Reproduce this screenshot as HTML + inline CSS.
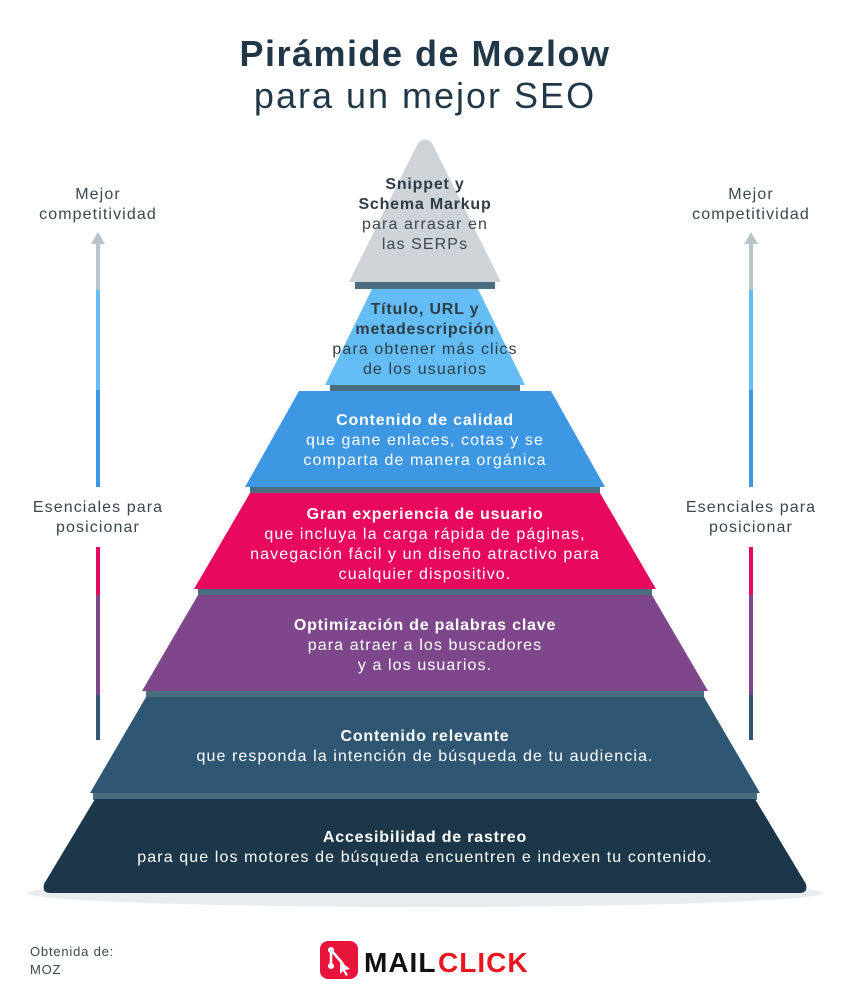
<!DOCTYPE html>
<html><head><meta charset="utf-8"><style>
body{margin:0;background:#fff;width:850px;height:1000px;overflow:hidden}
svg text{font-family:"Liberation Sans",sans-serif}
.b{letter-spacing:0.8px}
.r{letter-spacing:1.1px}
</style></head><body>
<svg width="850" height="1000" viewBox="0 0 850 1000">
<text x="425" y="66" text-anchor="middle" font-size="36" font-weight="bold" fill="#1f3747" letter-spacing="1.5">Pirámide de Mozlow</text>
<text x="425" y="108" text-anchor="middle" font-size="36" fill="#1f3747" letter-spacing="2">para un mejor SEO</text>
<ellipse cx="425" cy="893" rx="398" ry="14" fill="#e8ecee"/>
<g fill="#4b6d80">
<rect x="355" y="281" width="140" height="8"/>
<rect x="330" y="384" width="190" height="8"/>
<rect x="250" y="486" width="350" height="8"/>
<rect x="198" y="588" width="454" height="8"/>
<rect x="146" y="690" width="558" height="8"/>
<rect x="93" y="792" width="664" height="8"/>
</g>
<path d="M418,143 Q425,136 432,143 L501,282 L349,282 Z" fill="#cdd3d6"/>
<path d="M372,289 L478,289 L525,385 L325,385 Z" fill="#64bdf5"/>
<path d="M299,391 L551,391 L605,487 L245,487 Z" fill="#3d97e3"/>
<path d="M250,493 L600,493 L656,589 L194,589 Z" fill="#e8095e"/>
<path d="M198,595 L652,595 L708,691 L142,691 Z" fill="#7e478b"/>
<path d="M146,697 L704,697 L760,793 L90,793 Z" fill="#2f5774"/>
<path d="M95,799 L755,799 L806,884 Q808,893 800,893 L50,893 Q42,893 44,884 Z" fill="#1c3749"/>
<g text-anchor="middle" font-size="16">
<text class="b" x="425" y="189" font-weight="bold" fill="#2e3d46">Snippet y</text>
<text class="b" x="425" y="209" font-weight="bold" fill="#2e3d46">Schema Markup</text>
<text class="r" x="425" y="229" fill="#3a474f">para arrasar en</text>
<text class="r" x="425" y="249" fill="#3a474f">las SERPs</text>
<text class="b" x="425" y="314" font-weight="bold" fill="#2e3d46">Título, URL y</text>
<text class="b" x="425" y="334" font-weight="bold" fill="#2e3d46">metadescripción</text>
<text class="r" x="425" y="354" fill="#2e3d46">para obtener más clics</text>
<text class="r" x="425" y="374" fill="#2e3d46">de los usuarios</text>
<text class="b" x="425" y="425" font-weight="bold" fill="#fff">Contenido de calidad</text>
<text class="r" x="425" y="445" fill="#fff">que gane enlaces, cotas y se</text>
<text class="r" x="425" y="465" fill="#fff">comparta de manera orgánica</text>
<text class="b" x="425" y="519" font-weight="bold" fill="#fff">Gran experiencia de usuario</text>
<text class="r" x="425" y="539" fill="#fff">que incluya la carga rápida de páginas,</text>
<text class="r" x="425" y="559" fill="#fff">navegación fácil y un diseño atractivo para</text>
<text class="r" x="425" y="579" fill="#fff">cualquier dispositivo.</text>
<text class="b" x="425" y="630" font-weight="bold" fill="#fff">Optimización de palabras clave</text>
<text class="r" x="425" y="650" fill="#fff">para atraer a los buscadores</text>
<text class="r" x="425" y="670" fill="#fff">y a los usuarios.</text>
<text class="b" x="425" y="741" font-weight="bold" fill="#fff">Contenido relevante</text>
<text class="r" x="425" y="761" fill="#fff">que responda la intención de búsqueda de tu audiencia.</text>
<text class="b" x="425" y="842" font-weight="bold" fill="#fff">Accesibilidad de rastreo</text>
<text class="r" x="425" y="862" fill="#fff">para que los motores de búsqueda encuentren e indexen tu contenido.</text>
</g>
<g text-anchor="middle" font-size="16" fill="#3a474f" class="r">
<text x="98" y="199">Mejor</text><text x="98" y="219">competitividad</text>
<text x="98" y="512">Esenciales para</text><text x="98" y="532">posicionar</text>
<text x="751" y="199">Mejor</text><text x="751" y="219">competitividad</text>
<text x="751" y="512">Esenciales para</text><text x="751" y="532">posicionar</text>
</g>
<g id="ar">
<path d="M91,244 L98,232 L105,244 Z" fill="#b8c4ca"/>
<rect x="96" y="243" width="4" height="47" fill="#b8c4ca"/>
<rect x="96" y="290" width="4" height="100" fill="#64bdf5"/>
<rect x="96" y="390" width="4" height="97" fill="#3d97e3"/>
<rect x="96" y="547" width="4" height="48" fill="#e8095e"/>
<rect x="96" y="595" width="4" height="100" fill="#7e478b"/>
<rect x="96" y="695" width="4" height="45" fill="#2f5774"/>
</g>
<use href="#ar" x="653"/>
<text x="30" y="956" font-size="13" fill="#3a474f" letter-spacing="0.8">Obtenida de:</text>
<text x="30" y="974" font-size="13" fill="#3a474f" letter-spacing="0.8">MOZ</text>
<rect x="320" y="941" width="38" height="38" rx="8" fill="#e8143c"/>
<path d="M331,950 L343,964 M331,950 L331,965" stroke="#fff" stroke-width="2.5"/>
<circle cx="331" cy="950" r="3" fill="#fff"/><circle cx="331" cy="966" r="3" fill="#fff"/>
<path d="M340,961 L350,969 L345,970 L348,975 L346,976 L343,971 L340,974 Z" fill="#fff"/>
<text x="364" y="972" font-size="28" font-weight="bold" fill="#111" letter-spacing="1">MAIL</text>
<text x="438" y="972" font-size="28" font-weight="bold" fill="#e8141e" letter-spacing="1">CLICK</text>
</svg>
</body></html>
